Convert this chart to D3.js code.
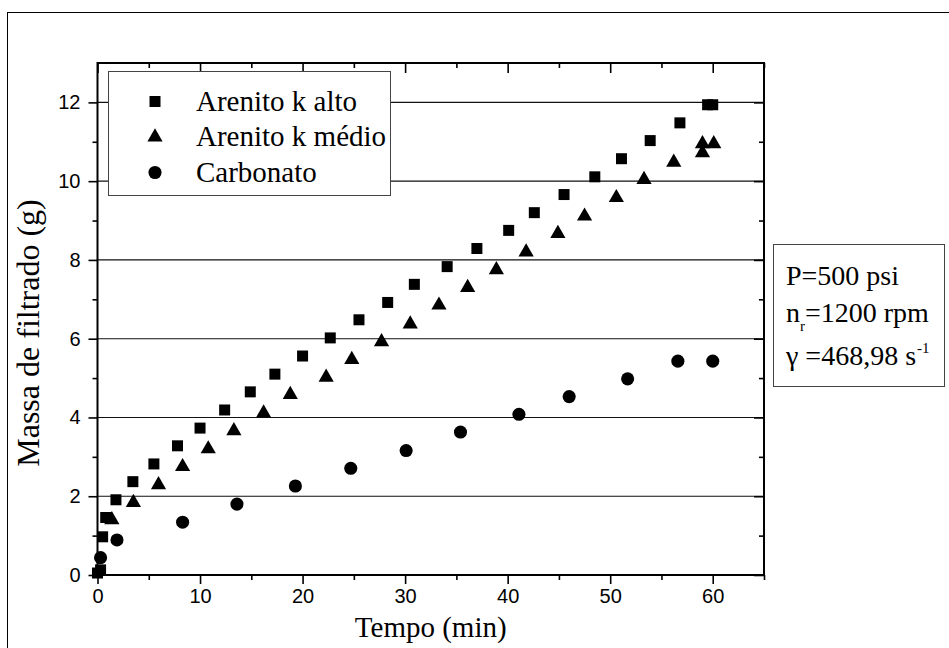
<!DOCTYPE html>
<html>
<head>
<meta charset="utf-8">
<script src="https://cdn.jsdelivr.net/npm/d3@7/dist/d3.min.js"></script>
<style>
  html, body { margin: 0; padding: 0; background: #fff; }
  svg { display: block; }
  .serif { font-family: "Liberation Serif", "Times New Roman", serif; }
  .sans { font-family: "Liberation Sans", Arial, sans-serif; }
</style>
</head>
<body>
<svg id="chart" width="949" height="648"></svg>
<script>
// Filtrate mass vs. time for three rock types
const seriesNames = ["Arenito k alto", "Arenito k médio", "Carbonato"];

const timeAlto = [0.0, 0.3, 0.5, 0.8, 1.8, 3.45, 5.5, 7.8, 10.0, 12.4, 14.9, 17.3, 20.0, 22.7, 25.5, 28.3, 30.9, 34.1, 37.0, 40.1, 42.6, 45.5, 48.5, 51.1, 53.9, 56.8, 59.5, 60.0];
const massAlto = [0.05, 0.13, 0.97, 1.46, 1.91, 2.37, 2.82, 3.28, 3.73, 4.19, 4.65, 5.10, 5.56, 6.02, 6.48, 6.92, 7.38, 7.83, 8.29, 8.75, 9.20, 9.66, 10.11, 10.57, 11.03, 11.48, 11.94, 11.94];

const timeMedio = [1.4, 3.5, 5.95, 8.3, 10.8, 13.3, 16.2, 18.8, 22.3, 24.8, 27.7, 30.5, 33.3, 36.1, 38.9, 41.8, 44.9, 47.5, 50.6, 53.3, 56.2, 59.0, 59.0, 60.1];
const massMedio = [1.40, 1.84, 2.29, 2.75, 3.20, 3.66, 4.11, 4.58, 5.02, 5.47, 5.92, 6.37, 6.85, 7.30, 7.75, 8.20, 8.67, 9.11, 9.58, 10.04, 10.48, 10.72, 10.95, 10.95];

const timeCarb = [0.3, 1.9, 8.3, 13.6, 19.3, 24.7, 30.1, 35.4, 41.1, 46.0, 51.7, 56.6, 60.0];
const massCarb = [0.44, 0.89, 1.34, 1.80, 2.26, 2.71, 3.16, 3.63, 4.08, 4.53, 4.98, 5.43, 5.43];

const xMajorTicks = [0, 10, 20, 30, 40, 50, 60];
const xMinorTicks = [5, 15, 25, 35, 45, 55, 65];
const yMajorTicks = [0, 2, 4, 6, 8, 10, 12];
const yMinorTicks = [1, 3, 5, 7, 9, 11];

const xTitle = "Tempo (min)";
const yTitle = "Massa de filtrado (g)";

const svg = d3.select("#chart");

// outer frame
svg.append("rect")
  .attr("x", 7.5).attr("y", 12.5)
  .attr("width", 960).attr("height", 660)
  .attr("fill", "none").attr("stroke", "#000").attr("stroke-width", 1);

const plot = { left: 97.5, right: 764, top: 63, bottom: 575 };

const x = d3.scaleLinear().domain([0, 65]).range([plot.left, plot.right]);
const y = d3.scaleLinear().domain([0, 13]).range([plot.bottom, plot.top]);

// horizontal grid lines
svg.append("g")
  .selectAll("line")
  .data(yMajorTicks.filter(v => v > 0))
  .join("line")
  .attr("x1", plot.left).attr("x2", plot.right)
  .attr("y1", d => y(d)).attr("y2", d => y(d))
  .attr("stroke", "#111").attr("stroke-width", 1.1);

// axes: outward ticks on left/bottom, inward on top/right
function styleAxis(g) {
  g.select(".domain").remove();
  g.selectAll(".tick line").attr("stroke", "#000").attr("stroke-width", 1.6);
}

const bottomMajor = svg.append("g")
  .attr("transform", `translate(0,${plot.bottom})`)
  .call(d3.axisBottom(x).tickValues(xMajorTicks).tickSize(9).tickPadding(5).tickFormat(d3.format("d")));
styleAxis(bottomMajor);
bottomMajor.selectAll("text").attr("class", "sans").attr("font-size", 20).attr("fill", "#000");

svg.append("g")
  .attr("transform", `translate(0,${plot.bottom})`)
  .call(d3.axisBottom(x).tickValues(xMinorTicks).tickSize(5).tickFormat(""))
  .call(styleAxis);

const leftMajor = svg.append("g")
  .attr("transform", `translate(${plot.left},0)`)
  .call(d3.axisLeft(y).tickValues(yMajorTicks).tickSize(9).tickPadding(8).tickFormat(d3.format("d")));
styleAxis(leftMajor);
leftMajor.selectAll("text").attr("class", "sans").attr("font-size", 20).attr("fill", "#000");

svg.append("g")
  .attr("transform", `translate(${plot.left},0)`)
  .call(d3.axisLeft(y).tickValues(yMinorTicks).tickSize(5).tickFormat(""))
  .call(styleAxis);

svg.append("g")
  .attr("transform", `translate(0,${plot.top})`)
  .call(d3.axisBottom(x).tickValues(xMajorTicks).tickSize(10).tickFormat(""))
  .call(styleAxis);
svg.append("g")
  .attr("transform", `translate(0,${plot.top})`)
  .call(d3.axisBottom(x).tickValues(xMinorTicks).tickSize(5).tickFormat(""))
  .call(styleAxis);

svg.append("g")
  .attr("transform", `translate(${plot.right},0)`)
  .call(d3.axisLeft(y).tickValues(yMajorTicks).tickSize(10).tickFormat(""))
  .call(styleAxis);
svg.append("g")
  .attr("transform", `translate(${plot.right},0)`)
  .call(d3.axisLeft(y).tickValues(yMinorTicks).tickSize(5).tickFormat(""))
  .call(styleAxis);

// plot frame
svg.append("rect")
  .attr("x", plot.left).attr("y", plot.top)
  .attr("width", plot.right - plot.left).attr("height", plot.bottom - plot.top)
  .attr("fill", "none").attr("stroke", "#000").attr("stroke-width", 2);

// markers
const symbols = [
  d3.symbol().type(d3.symbolSquare).size(121),
  d3.symbol().type(d3.symbolTriangle).size(100),
  d3.symbol().type(d3.symbolCircle).size(135)
];

const series = [
  { t: timeAlto, m: massAlto },
  { t: timeMedio, m: massMedio },
  { t: timeCarb, m: massCarb }
];

series.forEach((s, i) => {
  svg.append("g")
    .selectAll("path")
    .data(s.t.map((t, k) => [t, s.m[k]]))
    .join("path")
    .attr("d", symbols[i])
    .attr("transform", d => `translate(${x(d[0])},${y(d[1])})`)
    .attr("fill", "#000");
});

// legend
const legend = svg.append("g");
legend.append("rect")
  .attr("x", 108.5).attr("y", 71.5).attr("width", 282).attr("height", 124)
  .attr("fill", "#fff").attr("stroke", "#444").attr("stroke-width", 1);

const legendRowY = [101.5, 137, 172.5];
seriesNames.forEach((name, i) => {
  legend.append("path")
    .attr("d", symbols[i])
    .attr("transform", `translate(155,${legendRowY[i]})`)
    .attr("fill", "#000");
  legend.append("text")
    .attr("class", "serif")
    .attr("x", 196).attr("y", legendRowY[i] + 9)
    .attr("font-size", 29)
    .attr("fill", "#000")
    .text(name);
});

// axis titles
svg.append("text")
  .attr("class", "serif")
  .attr("x", (plot.left + plot.right) / 2).attr("y", 637)
  .attr("text-anchor", "middle")
  .attr("font-size", 29)
  .attr("fill", "#000")
  .text(xTitle);

svg.append("text")
  .attr("class", "serif")
  .attr("transform", `translate(39,333) rotate(-90)`)
  .attr("text-anchor", "middle")
  .attr("font-size", 32)
  .attr("fill", "#000")
  .text(yTitle);

// test conditions box
const info = svg.append("g").attr("class", "serif").attr("fill", "#000");
info.append("rect")
  .attr("x", 773.5).attr("y", 244.5).attr("width", 171).attr("height", 142)
  .attr("fill", "#fff").attr("stroke", "#444").attr("stroke-width", 1);

info.append("text").attr("x", 786).attr("y", 285).attr("font-size", 28).text("P=500 psi");

const l2 = info.append("text").attr("x", 786).attr("y", 322).attr("font-size", 28);
l2.append("tspan").text("n");
l2.append("tspan").attr("font-size", 15).attr("dy", 9).text("r");
l2.append("tspan").attr("dy", -9).text("=1200 rpm");

const l3 = info.append("text").attr("x", 786).attr("y", 365).attr("font-size", 28);
l3.append("tspan").text("γ =468,98 s");
l3.append("tspan").attr("font-size", 15).attr("dy", -12).attr("dx", 1).text("-1");
</script>
</body>
</html>
